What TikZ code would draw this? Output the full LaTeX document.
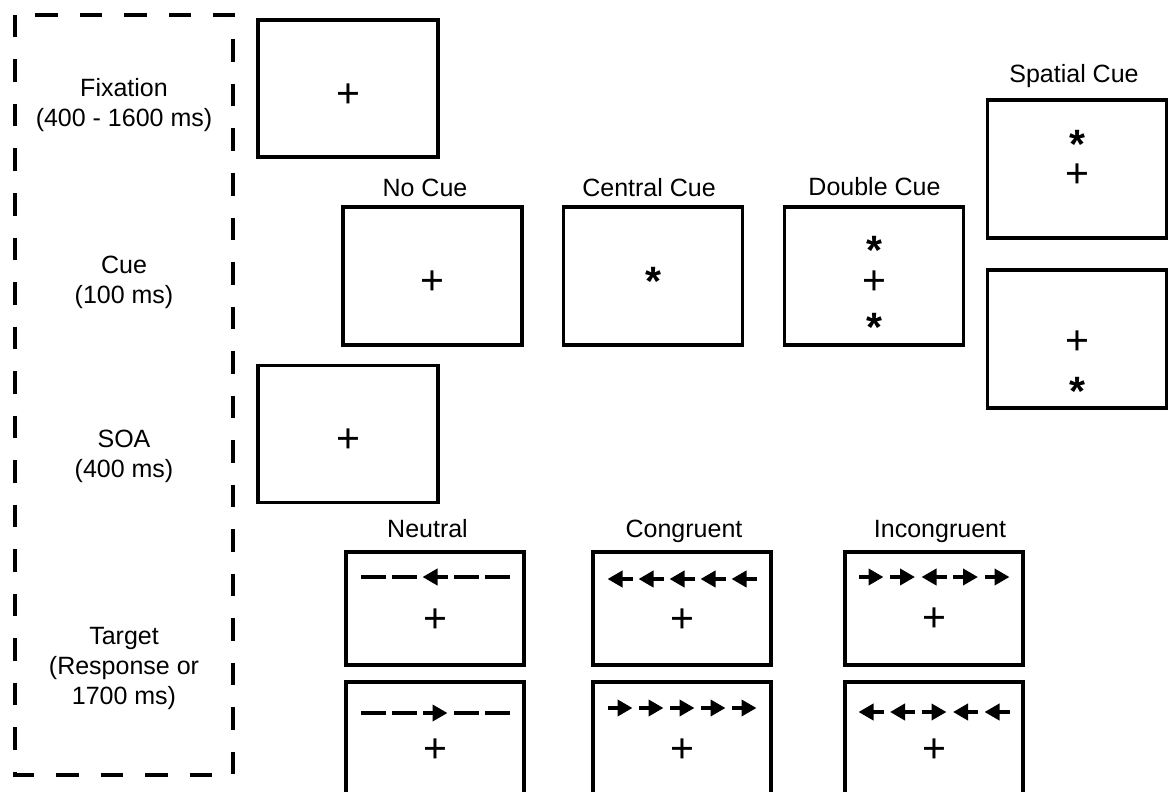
\documentclass[tikz,border=0pt]{standalone}
\usepackage{fontspec}
\setmainfont{Liberation Sans}
\newfontfamily\symfont{Liberation Sans}
\usetikzlibrary{arrows.meta}

% one row of five flankers: #1 centre x, #2 y, #3 spacing, #4 kinds (L, R or N)
\newcommand\flankrow[4]{%
  \foreach \t [count=\i from -2] in {#4} {%
    \pgfmathsetmacro\fx{#1+(\i)*#3}%
    \draw[flank\t] (\fx+12.5,#2) -- (\fx-12.5,#2);
  }}

\begin{document}
\begin{tikzpicture}[x=0.5pt,y=-0.5pt,
  screen/.style={draw, line width=1.7pt, inner sep=0pt},
  widescreen/.style={screen, minimum width=90pt, minimum height=68.5pt},
  cuescreen/.style={screen, minimum width=89.5pt, minimum height=69pt},
  targetscreen/.style={screen, minimum width=89pt, minimum height=56.5pt},
  phasebox/.style={line width=1.75pt, dash pattern=on 11.25pt off 11pt},
  phaselabel/.style={align=center, inner sep=0pt, font=\fontsize{12.5}{15}\selectfont},
  title/.style={anchor=base, inner sep=0pt, font=\fontsize{12.5}{15}\selectfont},
  plus/.style={inner sep=0pt, font=\symfont\fontsize{20.5}{24}\selectfont, yshift=-1.25pt},
  star/.style={inner sep=0pt, font=\symfont\bfseries\fontsize{20.5}{24}\selectfont, yshift=-11.7pt},
  flankN/.style={line width=2pt},
  flankL/.style={line width=2pt, -{Triangle[length=7.5pt,width=8pt]}},
  flankR/.style={line width=2pt, {Triangle[length=7.5pt,width=8pt]}-},
]
\useasboundingbox (0,0) rectangle (1173,792);
\clip (0,0) rectangle (1173,792);

% phase column
\draw[phasebox] (15,15) rectangle (233,775);
\node[phaselabel] (lfix) at (124,105) {Fixation\\(400 - 1600 ms)};
\node[phaselabel] (lcue) at (124,282) {Cue\\(100 ms)};
\node[phaselabel] (lsoa) at (124,456) {SOA\\(400 ms)};
\node[phaselabel] (ltgt) at (124,668) {Target\\(Response or\\1700 ms)};

% fixation
\node[widescreen] (fix) at (348,88.5) {};
\node[plus] (fixp) at (348,93) {+};

% cue conditions
\node[title] (tnocue) at (425,197) {No Cue};
\node[cuescreen] (nocue) at (432.5,276) {};
\node[plus] (nocuep) at (432.5,280) {+};

\node[title] (tcentral) at (649,197) {Central Cue};
\node[cuescreen] (central) at (653,276) {};
\node[star] (centrals) at (653,272) {\smash{*}};

\node[title] (tdouble) at (874.5,195) {Double Cue};
\node[cuescreen] (double) at (874,276) {};
\node[star] (doubles1) at (874,241) {\smash{*}};
\node[plus] (doublep) at (874,280) {+};
\node[star] (doubles2) at (874,318) {\smash{*}};

\node[title] (tspatial) at (1074,83) {Spatial Cue};
\node[cuescreen] (spatup) at (1077,169) {};
\node[star] (spatups) at (1077,135) {\smash{*}};
\node[plus] (spatupp) at (1077,173) {+};
\node[cuescreen] (spatdn) at (1077,339) {};
\node[plus] (spatdnp) at (1077,340) {+};
\node[star] (spatdns) at (1077,382) {\smash{*}};

% SOA
\node[widescreen] (soa) at (348,434) {};
\node[plus] (soap) at (348,438) {+};

% targets
\node[title] (tneutral) at (427.5,537) {Neutral};
\node[targetscreen] (neutup) at (435,608.5) {};
\node[plus] (neutupp) at (435,618) {+};
\flankrow{435}{577}{31}{N,N,L,N,N}
\node[targetscreen] (neutdn) at (435,738.5) {};
\node[plus] (neutdnp) at (435,748) {+};
\flankrow{435}{713}{31}{N,N,R,N,N}

\node[title] (tcong) at (684,537) {Congruent};
\node[targetscreen] (congup) at (682,608.5) {};
\node[plus] (congupp) at (682,618) {+};
\flankrow{682}{579}{31}{L,L,L,L,L}
\node[targetscreen] (congdn) at (682,738.5) {};
\node[plus] (congdnp) at (682,748) {+};
\flankrow{682}{708}{31}{R,R,R,R,R}

\node[title] (tincong) at (940,537) {Incongruent};
\node[targetscreen] (incup) at (934,608.5) {};
\node[plus] (incupp) at (934,617) {+};
\flankrow{934}{577}{31.5}{R,R,L,R,R}
\node[targetscreen] (incdn) at (934,738.5) {};
\node[plus] (incdnp) at (934,748) {+};
\flankrow{934}{712}{31.5}{L,L,R,L,L}
\end{tikzpicture}
\end{document}
